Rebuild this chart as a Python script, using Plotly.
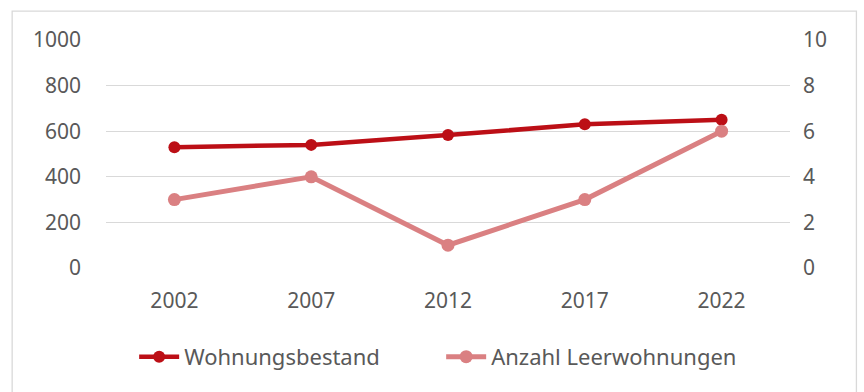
import plotly.graph_objects as go

years = ["2002", "2007", "2012", "2017", "2022"]
wohnungsbestand = [530, 540, 583, 630, 650]
leerwohnungen = [3, 4, 1, 3, 6]

dark_red = "#BC0F16"
light_red = "#DA8082"
text_grey = "#595959"
font_family = "Noto Sans, Open Sans, sans-serif"

fig = go.Figure()
fig.add_trace(go.Scatter(
    x=years, y=wohnungsbestand, name="Wohnungsbestand",
    mode="lines+markers",
    line=dict(color=dark_red, width=4.5),
    marker=dict(color=dark_red, size=12),
    yaxis="y",
))
fig.add_trace(go.Scatter(
    x=years, y=leerwohnungen, name="Anzahl Leerwohnungen",
    mode="lines+markers",
    line=dict(color=light_red, width=5),
    marker=dict(color=light_red, size=13),
    yaxis="y2",
))

fig.update_layout(
    width=864, height=392,
    margin=dict(l=105.5, r=73.5, t=40, b=124),
    paper_bgcolor="white", plot_bgcolor="white",
    font=dict(family=font_family, size=21, color=text_grey),
    showlegend=True,
    legend=dict(orientation="h", x=0.49, xanchor="center", y=-0.39, yanchor="middle",
                font=dict(size=22, color=text_grey), itemwidth=40, tracegroupgap=0,
                entrywidth=252, entrywidthmode="pixels"),
    xaxis=dict(type="category", range=[-0.5, 4.5], showgrid=False, showline=False,
               zeroline=False, ticks="", ticklabelstandoff=18),
    yaxis=dict(range=[0, 1000], dtick=200, showgrid=True, gridcolor="#D9D9D9", gridwidth=1.3,
               zeroline=False, showline=False, ticks="", ticklabelstandoff=24),
    yaxis2=dict(range=[0, 10], dtick=2, overlaying="y", side="right", showgrid=False,
                zeroline=False, showline=False, ticks="", ticklabelstandoff=12),
    shapes=[dict(type="rect", xref="paper", yref="paper",
                 x0=-0.1372, x1=1.0971, y0=-0.56, y1=1.127,
                 line=dict(color="#D9D9D9", width=1.3), layer="below")],
)

fig.write_html("out.html")
